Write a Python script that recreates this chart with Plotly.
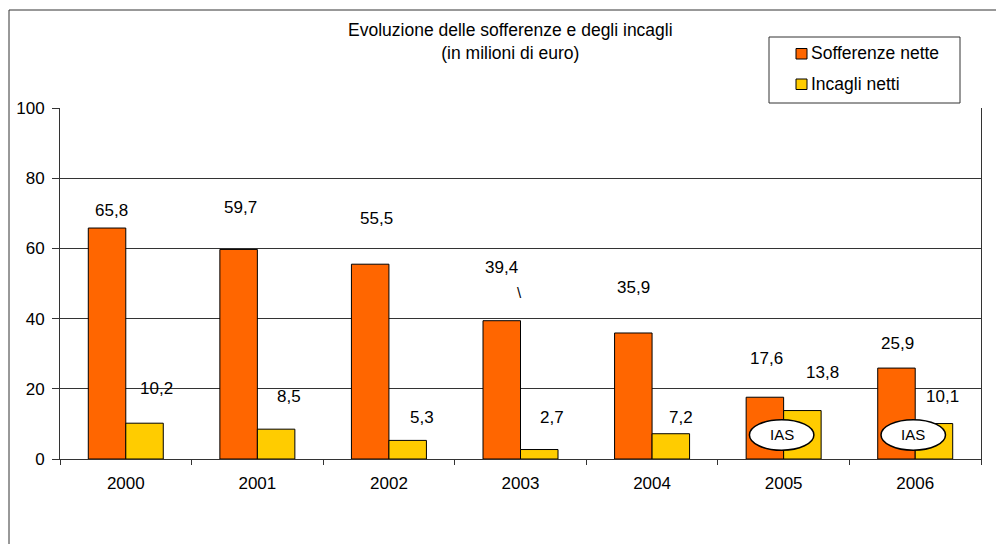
import plotly.graph_objects as go

# Dati (milioni di euro)
anni = ["2000", "2001", "2002", "2003", "2004", "2005", "2006"]
sofferenze = [65.8, 59.7, 55.5, 39.4, 35.9, 17.6, 25.9]
incagli = [10.2, 8.5, 5.3, 2.7, 7.2, 13.8, 10.1]
anni_ias = ["2005", "2006"]
serie = ["Sofferenze nette", "Incagli netti"]

# Posizionamento manuale delle etichette (pixel: spostamento x, altezza sopra la barra)
sof_dx = [4, 2, 6, 0, 0, 2, 1]
sof_dy = [18, 42, 46, 53, 45, 39, 25]
inc_dx = [12, 13, 14, 13, 10, 20, 9]
inc_dy = [35, 33, 23, 32, 16, 38, 27]

FONT = "Liberation Sans, Arial, sans-serif"
ARANCIO = "#FF6600"
GIALLO = "#FFCC00"
COLORI = [ARANCIO, GIALLO]
BARGAP = 0.43
half = (1 - BARGAP) / 4  # distanza del centro di ciascuna barra dal centro della categoria

W, H = 996, 544
ML, MR, MT, MB = 60, 15, 108, 85
PW, PH = W - ML - MR, H - MT - MB


def px_x(px):
    """coordinata orizzontale in pixel -> frazione dell'area del grafico"""
    return (px - ML) / PW


def px_y(py):
    """coordinata verticale in pixel (dall'alto) -> frazione dell'area del grafico"""
    return (H - MB - py) / PH


def fmt(v):
    return f"{v:.1f}".replace(".", ",")


fig = go.Figure()
fig.add_trace(go.Bar(
    x=anni, y=sofferenze, name=serie[0],
    marker=dict(color=ARANCIO, line=dict(color="black", width=1)),
))
fig.add_trace(go.Bar(
    x=anni, y=incagli, name=serie[1],
    marker=dict(color=GIALLO, line=dict(color="black", width=1)),
))

annotations = []
for i, v in enumerate(sofferenze):
    annotations.append(dict(
        x=i - half, y=v, xref="x", yref="y", text=fmt(v), showarrow=False,
        xshift=sof_dx[i], yshift=sof_dy[i], yanchor="middle",
        font=dict(family=FONT, size=17, color="black"),
    ))
for i, v in enumerate(incagli):
    annotations.append(dict(
        x=i + half, y=v, xref="x", yref="y", text=fmt(v), showarrow=False,
        xshift=inc_dx[i], yshift=inc_dy[i], yanchor="middle",
        font=dict(family=FONT, size=17, color="black"),
    ))

# piccolo tratto residuo sotto l'etichetta del 2003
i03 = anni.index("2003")
annotations.append(dict(
    x=i03 - half, y=sofferenze[i03], xref="x", yref="y", text="\\", showarrow=False,
    xshift=18, yshift=28, yanchor="middle",
    font=dict(family=FONT, size=15, color="black"),
))

# Titolo
annotations.append(dict(
    x=px_x(510), y=px_y(18), xref="paper", yref="paper",
    text="Evoluzione delle sofferenze e degli incagli<br>(in milioni di euro)",
    showarrow=False, xanchor="center", yanchor="top", align="center",
    font=dict(family=FONT, size=17.5, color="black"),
))

shapes = []
# Cornice esterna del grafico
shapes.append(dict(
    type="rect", xref="paper", yref="paper",
    x0=px_x(9), x1=1.2, y0=-1.0, y1=px_y(10),
    line=dict(color="#333333", width=1), fillcolor="rgba(0,0,0,0)", layer="below",
))

# Legenda disegnata a mano: riquadro, quadratini colorati e testo
shapes.append(dict(
    type="rect", xref="paper", yref="paper",
    x0=px_x(769), x1=px_x(960), y0=px_y(103), y1=px_y(37),
    line=dict(color="#333333", width=1), fillcolor="white", layer="above",
))
for k, (nome, col) in enumerate(zip(serie, COLORI)):
    yc = 53.5 + 30.5 * k
    shapes.append(dict(
        type="rect", xref="paper", yref="paper",
        x0=px_x(796), x1=px_x(807), y0=px_y(yc + 5.5), y1=px_y(yc - 5),
        line=dict(color="black", width=1), fillcolor=col, layer="above",
    ))
    annotations.append(dict(
        x=px_x(809), y=px_y(yc), xref="paper", yref="paper", text=nome,
        showarrow=False, xanchor="left", yanchor="middle",
        font=dict(family=FONT, size=17.5, color="black"),
    ))

# Ellissi "IAS" sui due anni con principi contabili IAS
for a in anni_ias:
    i = anni.index(a)
    shapes.append(dict(
        type="circle", xref="x", yref="y",
        x0=i - 0.26, x1=i + 0.23, y0=2.5, y1=11.2,
        line=dict(color="black", width=1.5), fillcolor="white", layer="above",
    ))
    annotations.append(dict(
        x=i - 0.015, y=6.85, xref="x", yref="y", text="IAS", showarrow=False,
        font=dict(family=FONT, size=15, color="black"),
    ))

fig.update_layout(
    width=W, height=H,
    margin=dict(l=ML, r=MR, t=MT, b=MB, autoexpand=False),
    paper_bgcolor="white", plot_bgcolor="white",
    barmode="group", bargap=BARGAP, bargroupgap=0,
    font=dict(family=FONT, size=17, color="black"),
    showlegend=False,
    annotations=annotations,
    shapes=shapes,
    xaxis=dict(
        type="category", showgrid=False, showline=True, linecolor="#333333", linewidth=1,
        ticks="outside", tickson="boundaries", ticklen=5, tickcolor="#333333",
        ticklabelstandoff=9, tickfont=dict(family=FONT, size=17, color="black"),
    ),
    yaxis=dict(
        range=[0, 100], dtick=20, showgrid=True, gridcolor="#333333", gridwidth=1,
        showline=True, mirror=True, linecolor="#333333", linewidth=1, zeroline=False,
        ticks="outside", ticklen=7, tickcolor="#333333", ticklabelstandoff=4,
        tickfont=dict(family=FONT, size=17, color="black"),
    ),
)

fig.write_html("out.html")
